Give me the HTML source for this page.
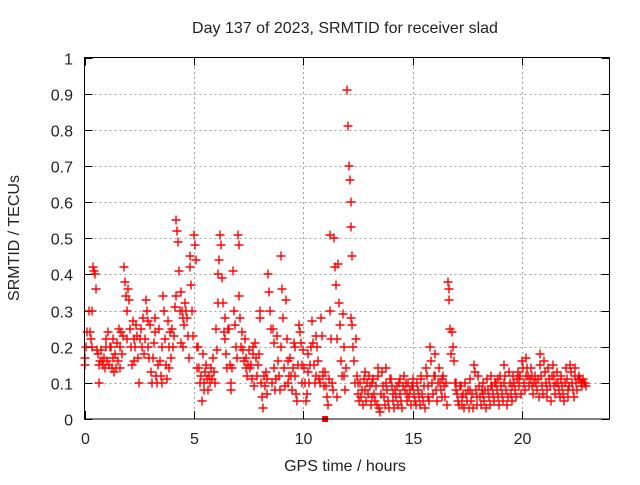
<!DOCTYPE html>
<html><head><meta charset="utf-8"><style>
body{margin:0;background:#fff}
svg text{font-family:"Liberation Sans",sans-serif;font-size:16px;fill:#222}
</style></head><body>
<svg id="chart" width="640" height="480" xmlns="http://www.w3.org/2000/svg">
<text x="345" y="33" text-anchor="middle">Day 137 of 2023, SRMTID for receiver slad</text>
<g id="grid"></g>
<g id="axes"></g>
<g id="marks"></g>
<rect x="84.5" y="57.5" width="525" height="361.5" fill="none" stroke="#000" stroke-width="1"/>
<text transform="translate(19,238) rotate(-90)" text-anchor="middle">SRMTID / TECUs</text>
<text x="345" y="471" text-anchor="middle">GPS time / hours</text>
</svg>
<script>
const xTicks=[0,5,10,15,20];
const yTicks=[0,0.1,0.2,0.3,0.4,0.5,0.6,0.7,0.8,0.9,1];
const yTickLabels=["0","0.1","0.2","0.3","0.4","0.5","0.6","0.7","0.8","0.9","1"];
const times=[0.0,0.2,0.4,0.6,0.8,1.0,1.2,1.4,1.6,1.8,2.0,2.2,2.4,2.6,2.8,3.0,3.2,3.4,3.6,3.8,4.0,4.2,4.4,4.6,4.8,5.0,5.2,5.4,5.6,5.8,6.0,6.2,6.4,6.6,6.8,7.0,7.2,7.4,7.6,7.8,8.0,8.2,8.4,8.6,8.8,9.0,9.2,9.4,9.6,9.8,10.0,10.2,10.4,10.6,10.8,11.0,11.2,11.4,11.6,11.8,12.0,12.2,12.4,12.6,12.8,13.0,13.2,13.4,13.6,13.8,14.0,14.2,14.4,14.6,14.8,15.0,15.2,15.4,15.6,15.8,16.0,16.2,16.4,16.6,16.8,17.0,17.2,17.4,17.6,17.8,18.0,18.2,18.4,18.6,18.8,19.0,19.2,19.4,19.6,19.8,20.0,20.2,20.4,20.6,20.8,21.0,21.2,21.4,21.6,21.8,22.0,22.2,22.4,22.6,22.8];
const values=[
[.17,.15,.2,.24],[.3,.24,.22,.3,.2],[.42,.41,.4,.36,.19],[.18,.1,.15,.16,.19],[.16,.15,.17,.14,.2],
[.22,.16,.24,.15,.2],[.2,.14,.17,.22,.13],[.18,.14,.21,.16,.25],[.2,.14,.24,.18,.23],[.42,.38,.34,.3,.22],
[.36,.33,.25,.2,.15],[.27,.22,.16,.2,.26],[.23,.17,.1,.22,.25],[.25,.2,.28,.18,.22],[.33,.3,.27,.2,.17],
[.26,.13,.1,.17,.21],[.28,.24,.12,.1,.15],[.25,.16,.12,.2,.1],[.34,.3,.22,.15,.11],[.27,.2,.14,.24,.17],
[.25,.2,.23,.31,.34],[.55,.52,.49,.41,.3,.21],[.35,.3,.28,.2,.26],[.32,.3,.28,.23,.17],[.45,.42,.37,.3,.23],
[.51,.48,.44,.2,.14],[.2,.14,.1,.12,.05],[.18,.1,.08,.13,.15],[.11,.08,.12,.1,.14],[.14,.11,.17,.13,.1],
[.25,.19,.32,.4,.44],[.51,.48,.39,.32,.24],[.28,.22,.18,.14,.25],[.25,.15,.1,.08,.14],[.41,.3,.26,.2,.17],
[.51,.48,.34,.28,.2],[.24,.19,.16,.22,.14],[.17,.12,.15,.19,.14],[.15,.11,.18,.2,.09],[.21,.17,.12,.15,.18],
[.3,.28,.1,.06,.03],[.12,.09,.13,.07,.11],[.4,.35,.3,.25,.1],[.25,.21,.14,.08,.11],[.23,.16,.12,.08,.2],
[.45,.36,.28,.14,.09],[.33,.22,.16,.1,.12],[.17,.12,.08,.14,.21],[.2,.12,.07,.05,.15],[.26,.24,.21,.15,.1],
[.19,.14,.1,.05,.07],[.18,.13,.1,.15,.2],[.27,.21,.15,.1,.12],[.23,.2,.16,.11,.1],[.28,.23,.12,.13,.09],
[.13,.09,.06,.04,.11],[.51,.3,.22,.1,.08],[.5,.42,.37,.22,.06],[.43,.32,.26,.16,.12],[.29,.2,.12,.08,.14],
[.91,.81,.7,.66,.6,.53,.45],[.28,.26,.2,.16,.1],[.22,.12,.07,.1,.05],[.1,.06,.08,.04,.11],[.13,.08,.05,.1,.07],
[.12,.09,.04,.06,.1],[.11,.07,.05,.09,.04],[.14,.12,.03,.02,.07],[.13,.09,.06,.04,.1],[.14,.08,.05,.03,.11],
[.11,.09,.05,.07,.03],[.08,.06,.09,.04,.1],[.11,.07,.05,.03,.09],[.12,.08,.1,.05,.07],[.1,.06,.08,.04,.09],
[.11,.09,.07,.05,.04],[.1,.08,.06,.04,.12],[.11,.07,.05,.09,.03],[.14,.12,.09,.06,.05],[.2,.16,.1,.07,.12],
[.18,.12,.08,.05,.1],[.14,.1,.08,.11,.06],[.12,.09,.06,.1,.04],[.38,.36,.33,.25,.18],[.24,.2,.16,.1,.08],
[.1,.07,.05,.04,.09],[.09,.06,.04,.07,.03],[.1,.07,.05,.08,.03],[.11,.08,.05,.07,.03],[.15,.13,.08,.06,.04],
[.12,.09,.06,.04,.08],[.1,.07,.05,.08,.03],[.11,.08,.06,.04,.09],[.12,.09,.07,.05,.1],[.1,.08,.06,.11,.04],
[.12,.09,.07,.05,.1],[.15,.12,.08,.04,.06],[.13,.1,.07,.09,.05],[.12,.1,.08,.06,.11],[.13,.11,.09,.12,.07],
[.16,.14,.1,.08,.12],[.17,.14,.12,.09,.11],[.14,.12,.09,.07,.1],[.12,.1,.08,.11,.06],[.18,.15,.12,.09,.07],
[.16,.13,.1,.08,.06],[.14,.11,.09,.05,.12],[.15,.12,.09,.07,.1],[.13,.1,.08,.06,.11],[.12,.09,.07,.05,.1],
[.14,.11,.08,.06,.09],[.15,.13,.1,.08,.06],[.14,.12,.1,.08,.11],[.12,.11,.1,.09,.1],[.11,.1,.1,.09]];
const zeroTimes=[11.0];
const NS="http://www.w3.org/2000/svg";
const X0=84.5,X1=609.5,Y0=419,Y1=57.5;
function xs(h){return X0+h/24*(X1-X0);}
function ys(v){return Y0-v*(Y0-Y1);}
function mk(tag,attrs,parent){const e=document.createElementNS(NS,tag);for(const k in attrs)e.setAttribute(k,attrs[k]);parent.appendChild(e);return e;}
const grid=document.getElementById('grid'),axes=document.getElementById('axes'),marks=document.getElementById('marks');
yTicks.forEach((v,i)=>{
  const y=Math.round(ys(v))+0.5;
  if(i>0&&i<yTicks.length-1){const g=mk('line',{x1:X0,x2:X1,y1:y,y2:y,stroke:'#a0a0a0','stroke-dasharray':'2,3'},grid);
  
  }
  mk('line',{x1:X0,x2:X0+8,y1:y,y2:y,stroke:'#000'},axes);
  mk('line',{x1:X1-8,x2:X1,y1:y,y2:y,stroke:'#000'},axes);
  const t=mk('text',{x:73,y:y+6,'text-anchor':'end'},axes);t.textContent=yTickLabels[i];
  
  
});
xTicks.forEach((h,i)=>{
  const x=Math.round(xs(h))+0.5;
  if(i>0){const g=mk('line',{x1:x,x2:x,y1:Y0,y2:Y1,stroke:'#a0a0a0','stroke-dasharray':'2,3'},grid);
  
  }
  mk('line',{x1:x,x2:x,y1:Y0,y2:Y0-8,stroke:'#000'},axes);
  mk('line',{x1:x,x2:x,y1:Y1,y2:Y1+8,stroke:'#000'},axes);
  const t=mk('text',{x:x,y:444,'text-anchor':'middle'},axes);t.textContent=String(h);
  
  
});
let d='';
times.forEach((t,i)=>{
  values[i].forEach((v,j)=>{
    const x=Math.round(xs(t+j*0.04)),y=Math.round(ys(v));
    d+=`M${x-4.5} ${y}h9M${x} ${y-4.5}v9`;
  });
});
const p=mk('path',{d:d,stroke:'#ff0000','stroke-width':1.4,fill:'none'},marks);


zeroTimes.forEach(t=>{
  const r=mk('rect',{x:xs(t)-3,y:Y0-3,width:6,height:6,fill:'#ff0000'},marks);
  
  
});
</script>
</body></html>
